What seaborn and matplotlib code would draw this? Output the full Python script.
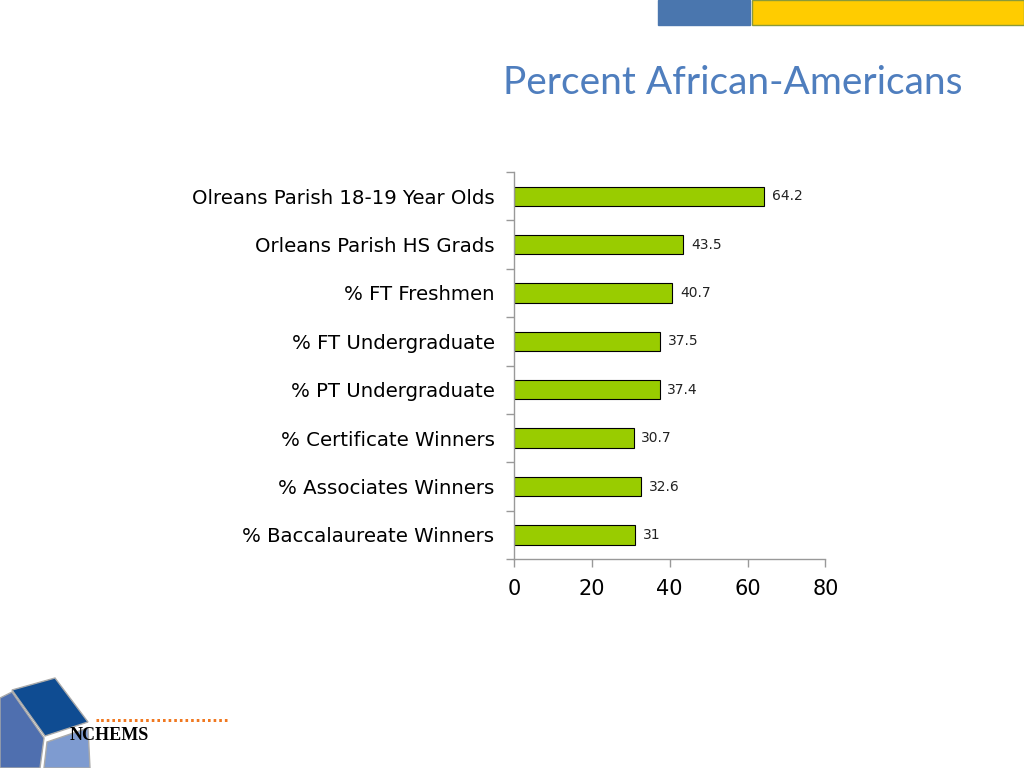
import matplotlib
matplotlib.use('Agg')
import matplotlib.pyplot as plt
import matplotlib.patches as mpatches
import seaborn as sns
import numpy as np
import pandas as pd

categories = ['Olreans Parish 18-19 Year Olds', 'Orleans Parish HS Grads', '% FT Freshmen',
              '% FT Undergraduate', '% PT Undergraduate', '% Certificate Winners',
              '% Associates Winners', '% Baccalaureate Winners']
values = [64.2, 43.5, 40.7, 37.5, 37.4, 30.7, 32.6, 31]
value_labels = ['64.2', '43.5', '40.7', '37.5', '37.4', '30.7', '32.6', '31']
x_ticks = [0, 20, 40, 60, 80]

sns.set_theme(style='white')
plt.rcParams['font.family'] = ['DejaVu Sans']
plt.rcParams['text.color'] = 'black'
plt.rcParams['xtick.color'] = '#999999'
plt.rcParams['ytick.color'] = '#999999'
plt.rcParams['xtick.labelcolor'] = 'black'
plt.rcParams['ytick.labelcolor'] = 'black'

df = pd.DataFrame({'cat': categories, 'val': values})

fig = plt.figure(figsize=(10.24, 7.68), dpi=100)
ax = fig.add_axes([0.502, 0.272, 0.304, 0.504])

sns.barplot(data=df, y='cat', x='val', color='#99CC00', width=0.4,
            edgecolor='black', linewidth=0.8, saturation=1, ax=ax)

for i, (v, lab) in enumerate(zip(values, value_labels)):
    ax.text(v + 2, i, lab, va='center', ha='left', fontsize=10, color='#222222')

ax.set_xlim(0, 80)
ax.set_ylim(len(categories) - 0.5, -0.5)
ax.set_xticks(x_ticks)
ax.set_xticklabels([str(t) for t in x_ticks], fontsize=15)
ax.set_yticks(range(len(categories)))
ax.set_yticklabels(categories, fontsize=14.2)
ax.set_yticks(np.arange(-0.5, len(categories), 1), minor=True)
ax.tick_params(axis='y', which='major', left=False, length=0, pad=14)
ax.tick_params(axis='y', which='minor', left=True, length=6, width=1, direction='out')
ax.tick_params(axis='x', which='major', bottom=True, length=6, width=1, direction='out', pad=8)
ax.set_xlabel('')
ax.set_ylabel('')
for s in ['top', 'right']:
    ax.spines[s].set_visible(False)
for s in ['left', 'bottom']:
    ax.spines[s].set_color('#999999')
    ax.spines[s].set_linewidth(1)

# title
fig.text(0.94, 0.892, 'Percent African-Americans', ha='right', va='center',
         fontsize=28, color='#4F7EBE', family=['Lato', 'DejaVu Sans'])

# header band
fig.patches.append(mpatches.Rectangle((658 / 1024, 1 - 25 / 768), 92 / 1024, 25 / 768,
                                      transform=fig.transFigure, color='#4A76AE', zorder=0))
fig.patches.append(mpatches.Rectangle((752 / 1024, 1 - 25 / 768), 272 / 1024, 25 / 768,
                                      transform=fig.transFigure, facecolor='#FFCC00',
                                      edgecolor='#8A9A3A', linewidth=1, zorder=0))

# logo
def P(pts, **kw):
    fig.patches.append(mpatches.Polygon([(x / 1024, 1 - y / 768) for x, y in pts],
                                        closed=True, transform=fig.transFigure, **kw))

P([(12, 690), (55, 678), (88, 722), (45, 736)], facecolor='#0F4C92', edgecolor='#AAAAAA', linewidth=1)
P([(0, 698), (12, 692), (44, 738), (40, 768), (0, 768)], facecolor='#4F6FAF', edgecolor='#AAAAAA', linewidth=1)
P([(47, 742), (88, 728), (90, 768), (44, 768)], facecolor='#7E9BD0', edgecolor='#AAAAAA', linewidth=1)
fig.text(95 / 1024, 1 - 717 / 768, '.' * 24, fontsize=11, color='#F07820', fontweight='bold',
         va='center', ha='left')
fig.text(70 / 1024, 1 - 736 / 768, 'NCHEMS', fontsize=13, fontweight='bold', color='black',
         family=['Liberation Serif', 'DejaVu Serif'], va='center', ha='left')

fig.savefig('out.png', dpi=100)
